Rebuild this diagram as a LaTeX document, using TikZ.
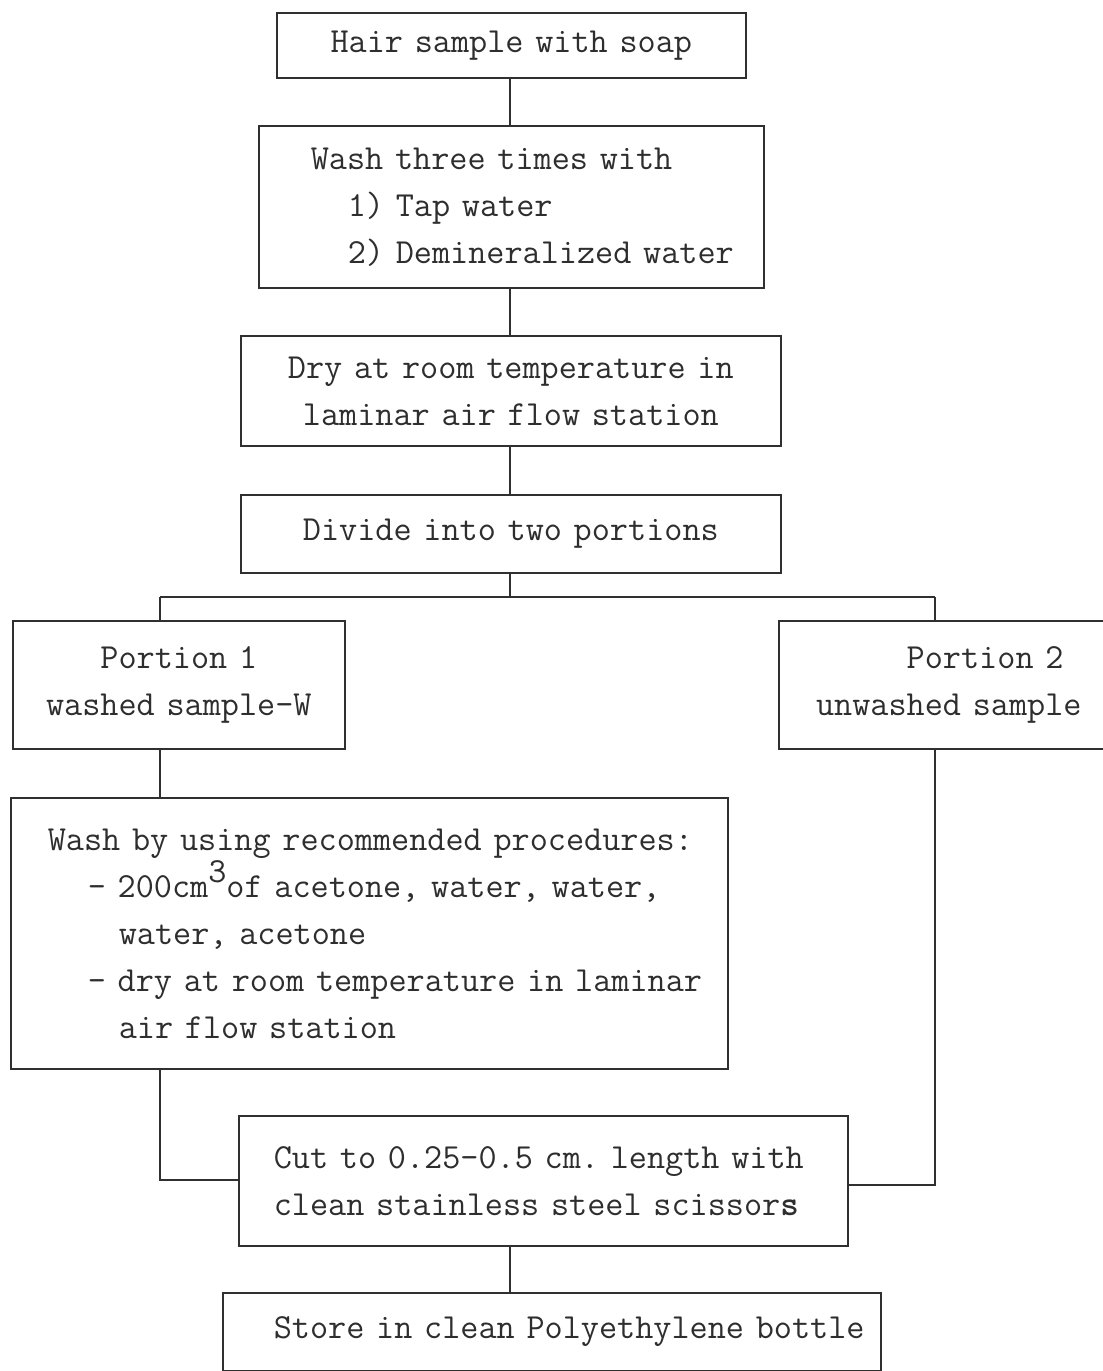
\documentclass[tikz,border=0pt]{standalone}
\usepackage{fontspec}
\definecolor{ink}{HTML}{303030}
\definecolor{txt}{HTML}{2E2E2E}
\newcommand{\typefont}{\ttfamily\fontsize{35.2}{47}\selectfont\frenchspacing}
\tikzset{
  box/.style={draw=ink, line width=1.7pt, anchor=north west, inner ysep=0pt,
    inner xsep=0pt, font=\typefont, text=txt},
  conn/.style={draw=ink, line width=1.1pt}
}
\newcommand{\supthree}{\raisebox{0.40em}{3}}
\begin{document}
\begin{tikzpicture}[x=1pt,y=-1pt]
\clip (0,0) rectangle (1103,1371);
\fill[white] (0,0) rectangle (1103,1371);

\node[box, minimum width=469pt, minimum height=65pt, text width=469pt, align=center] (b1) at (276,12) {Hair sample with soap};

\node[box, minimum width=505pt, minimum height=162pt, text width=505pt, align=left] (b2) at (258,125)
  {\hspace*{52pt}Wash three times with\\\hspace*{89pt}1) Tap water\\\hspace*{89pt}2) Demineralized water};

\node[box, minimum width=540pt, minimum height=110pt, text width=540pt, align=center] (b3) at (240,335)
  {Dry at room temperature in\\laminar air flow station};

\node[box, minimum width=540pt, minimum height=78pt, text width=540pt, align=center] (b4) at (240,494)
  {Divide into two portions};

\node[box, minimum width=332pt, minimum height=128pt, text width=332pt, align=center] (b5) at (12,620)
  {Portion 1\\washed sample-W};

\node[box, minimum width=340pt, minimum height=128pt, text width=340pt, align=center] (b6) at (778,620)
  {\hphantom{xxxx}Portion 2\\unwashed sample};

\node[box, minimum width=717pt, minimum height=271pt, text width=717pt, align=left] (b7) at (10,797)
  {\hspace*{37pt}Wash by using recommended procedures:\\
   \hspace*{77pt}- 200cm\supthree of acetone, water, water,\\
   \hspace*{108pt}water, acetone\\
   \hspace*{77pt}\mbox{- dry at room temperature in laminar}\\
   \hspace*{108pt}air flow station};

\node[box, minimum width=609pt, minimum height=130pt, text width=609pt, align=left] (b8) at (238,1115)
  {\hspace*{35pt}Cut to 0.25-0.5 cm. length with\\\hspace*{35pt}clean stainless steel scissor\textbf{s}};

\node[box, minimum width=658pt, minimum height=78pt, text width=658pt, align=left] (b9) at (222,1292)
  {\hspace*{51pt}\mbox{Store in clean Polyethylene bottle}};

\coordinate (mid) at (510,0);
\coordinate (j) at (510,597);
\coordinate (l) at (160,597);
\coordinate (r) at (935,597);
\coordinate (lb) at (160,1180);
\coordinate (rb) at (935,1185);

\draw[conn] (mid |- b1.south) -- (mid |- b2.north);
\draw[conn] (mid |- b2.south) -- (mid |- b3.north);
\draw[conn] (mid |- b3.south) -- (mid |- b4.north);
\draw[conn] (mid |- b4.south) -- (j);
\draw[conn] (l) -- (r);
\draw[conn] (l) -- (l |- b5.north);
\draw[conn] (r) -- (r |- b6.north);
\draw[conn] (l |- b5.south) -- (l |- b7.north);
\draw[conn] (l |- b7.south) -- (lb) -- (lb -| b8.west);
\draw[conn] (r |- b6.south) -- (rb) -- (rb -| b8.east);
\draw[conn] (mid |- b8.south) -- (mid |- b9.north);
\end{tikzpicture}
\end{document}
